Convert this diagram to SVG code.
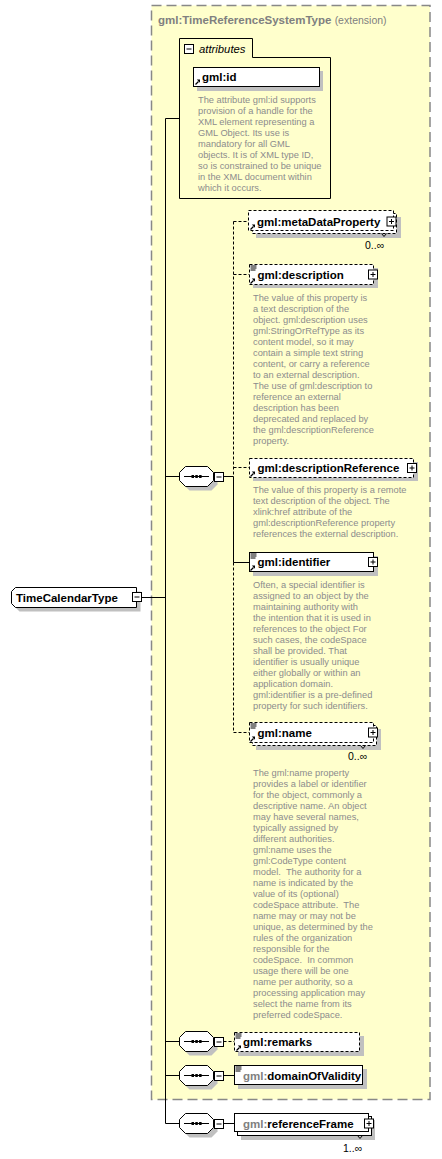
<svg xmlns="http://www.w3.org/2000/svg" xmlns:xlink="http://www.w3.org/1999/xlink" width="442" height="1159" viewBox="0 0 442 1159">
<style>
text{font-family:"Liberation Sans",Arial,sans-serif;}
.lb{font-size:11.5px;font-weight:bold;fill:#000;}
.g{fill:#808080;}
.d{font-size:9.3px;fill:#8c8c8c;white-space:pre;}
.m{font-size:10.5px;fill:#000;}
.box{fill:#fff;stroke:#000;stroke-width:1;}
.dbox{fill:#fff;stroke:#000;stroke-width:1;stroke-dasharray:3,2;}
.sh{fill:#c0c0c0;stroke:none;}
.ln{fill:none;stroke:#000;stroke-width:1;}
.dl{fill:none;stroke:#000;stroke-width:1;stroke-dasharray:3,2;}
</style>
<defs>
<g id="seq">
<polygon class="sh" points="10.5,4.5 32.5,4.5 38.5,10.5 38.5,18.5 32.5,24.5 10.5,24.5 4.5,18.5 4.5,10.5"/>
<polygon class="box" points="6.5,0.5 28.5,0.5 34.5,6.5 34.5,14.5 28.5,20.5 6.5,20.5 0.5,14.5 0.5,6.5"/>
<line class="ln" x1="5" y1="10.5" x2="30" y2="10.5"/>
<rect x="12.5" y="9" width="2.5" height="3" fill="#000"/>
<rect x="16.3" y="9" width="2.5" height="3" fill="#000"/>
<rect x="20.1" y="9" width="2.5" height="3" fill="#000"/>
<rect class="box" x="35.5" y="6.5" width="9" height="9"/>
<line class="ln" x1="37.5" y1="11" x2="42.5" y2="11"/>
</g>
<g id="plus">
<rect class="box" x="0.5" y="0.5" width="9" height="9"/>
<line class="ln" x1="2.5" y1="5" x2="7.5" y2="5"/>
<line class="ln" x1="5" y1="2.5" x2="5" y2="7.5"/>
</g>
<g id="ref">
<line x1="0.5" y1="5" x2="3.5" y2="2" stroke="#000" stroke-width="1.2"/>
<polygon points="1.8,0 5,0 5,3.2" fill="#000"/>
</g>
<g id="doc">
<line x1="0" y1="0.5" x2="6" y2="0.5" stroke="#000" stroke-width="1"/>
<line x1="0" y1="2.5" x2="6" y2="2.5" stroke="#000" stroke-width="1"/>
<line x1="0" y1="4.5" x2="5" y2="4.5" stroke="#000" stroke-width="1"/>
</g>
</defs>

<g id="extension">
<rect x="151.5" y="5.5" width="278.5" height="1094" fill="#ffffcc" stroke="#888" stroke-width="1.5" stroke-dasharray="10,5"/>
<text x="158" y="23.5" style="font-size:11.5px;font-weight:bold" class="g">gml:TimeReferenceSystemType <tspan style="font-weight:normal;font-size:10.5px">(extension)</tspan></text>
</g>

<g id="connectors">
<line class="ln" x1="141.5" y1="597.5" x2="165.5" y2="597.5"/>
<line class="ln" x1="165.5" y1="118.5" x2="165.5" y2="1123.5"/>
<line class="ln" x1="165.5" y1="118.5" x2="179.5" y2="118.5"/>
<line class="ln" x1="165.5" y1="476.5" x2="179.5" y2="476.5"/>
<line class="ln" x1="165.5" y1="1041.5" x2="179.5" y2="1041.5"/>
<line class="ln" x1="165.5" y1="1075.5" x2="179.5" y2="1075.5"/>
<line class="ln" x1="165.5" y1="1123.5" x2="179.5" y2="1123.5"/>
<line class="ln" x1="223.5" y1="476.5" x2="233.5" y2="476.5"/>
<line class="dl" x1="233.5" y1="221.5" x2="233.5" y2="476.5"/>
<line class="ln" x1="233.5" y1="476.5" x2="233.5" y2="562.5"/>
<line class="dl" x1="233.5" y1="562.5" x2="233.5" y2="732.5"/>
<line class="dl" x1="233.5" y1="221.5" x2="248.5" y2="221.5"/>
<line class="dl" x1="233.5" y1="274.5" x2="249.5" y2="274.5"/>
<line class="dl" x1="233.5" y1="467.5" x2="249.5" y2="467.5"/>
<line class="ln" x1="233.5" y1="562.5" x2="249.5" y2="562.5"/>
<line class="dl" x1="233.5" y1="732.5" x2="249.5" y2="732.5"/>
<line class="dl" x1="223.5" y1="1041.5" x2="234.5" y2="1041.5"/>
<line class="ln" x1="223.5" y1="1075.5" x2="234.5" y2="1075.5"/>
<line class="ln" x1="223.5" y1="1123.5" x2="234.5" y2="1123.5"/>
</g>

<g id="TimeCalendarType">
<polygon class="sh" points="19.5,591.5 140.5,591.5 140.5,611.5 19.5,611.5 15.5,607.5 15.5,595.5"/>
<polygon class="box" points="15.5,587.5 136.5,587.5 136.5,607.5 15.5,607.5 11.5,603.5 11.5,591.5"/>
<text class="lb" x="16" y="601.5">TimeCalendarType</text>
<rect class="box" x="132.5" y="592.5" width="9" height="9"/>
<line class="ln" x1="134.5" y1="597" x2="139.5" y2="597"/>
</g>

<g id="attributes">
<path class="ln" d="M179.5,198.5 V38.5 H252.5 V57.5 H330.5 V198.5 Z"/>
<rect class="box" x="184.5" y="44.5" width="9" height="9"/>
<line class="ln" x1="186.5" y1="49" x2="191.5" y2="49"/>
<text x="199" y="52.5" style="font-size:11.3px;font-style:italic">attributes</text>
</g>

<g id="gml-id">
<rect class="sh" x="197" y="71" width="126" height="20"/>
<rect class="box" x="193.5" y="67.5" width="126" height="19"/>
<use href="#ref" x="195" y="79.5"/>
<text class="lb" x="202" y="81">gml:id</text>
<text class="d" x="198"><tspan x="198" y="102.5">The attribute gml:id supports</tspan><tspan x="198" y="113.5">provision of a handle for the</tspan><tspan x="198" y="124.5">XML element representing a</tspan><tspan x="198" y="135.5">GML Object. Its use is</tspan><tspan x="198" y="146.5">mandatory for all GML</tspan><tspan x="198" y="157.5">objects. It is of XML type ID,</tspan><tspan x="198" y="168.5">so is constrained to be unique</tspan><tspan x="198" y="179.5">in the XML document within</tspan><tspan x="198" y="190.5">which it occurs.</tspan></text>
</g>

<g id="sequence-main"><use href="#seq" x="179" y="466"/></g>

<g id="metaDataProperty">
<rect class="sh" x="256" y="217" width="145" height="21"/>
<rect class="dbox" x="252.5" y="213.5" width="144" height="20"/>
<rect class="dbox" x="248.5" y="210.5" width="145" height="20"/>
<polyline class="ln" points="381.5,233.5 384,236.5 386.5,233.5"/>
<use href="#ref" x="250" y="224.5"/>
<text class="lb" x="257" y="225.5">gml:metaDataProperty</text>
<use href="#plus" x="386.5" y="216.5"/>
<text class="m" x="365" y="249">0..∞</text>
</g>

<g id="description">
<rect class="sh" x="253" y="268" width="125" height="20"/>
<rect class="dbox" x="249.5" y="264.5" width="124" height="20"/>
<use href="#doc" x="250.5" y="265.5"/>
<use href="#ref" x="250" y="278.5"/>
<text class="lb" x="257.5" y="278.5">gml:description</text>
<use href="#plus" x="368" y="269.5"/>
<text class="d"><tspan x="253" y="300.5">The value of this property is</tspan><tspan x="253" y="311.5">a text description of the</tspan><tspan x="253" y="322.5">object. gml:description uses</tspan><tspan x="253" y="333.5">gml:StringOrRefType as its</tspan><tspan x="253" y="344.5">content model, so it may</tspan><tspan x="253" y="355.5">contain a simple text string</tspan><tspan x="253" y="366.5">content, or carry a reference</tspan><tspan x="253" y="377.5">to an external description.</tspan><tspan x="253" y="388.5">The use of gml:description to</tspan><tspan x="253" y="399.5">reference an external</tspan><tspan x="253" y="410.5">description has been</tspan><tspan x="253" y="421.5">deprecated and replaced by</tspan><tspan x="253" y="432.5">the gml:descriptionReference</tspan><tspan x="253" y="443.5">property.</tspan></text>
</g>

<g id="descriptionReference">
<rect class="sh" x="253" y="462" width="165" height="19"/>
<rect class="dbox" x="249.5" y="458.5" width="164" height="19"/>
<use href="#ref" x="250" y="471.5"/>
<text class="lb" x="257.5" y="471.5">gml:descriptionReference</text>
<use href="#plus" x="407" y="463"/>
<text class="d"><tspan x="253" y="492.5">The value of this property is a remote</tspan><tspan x="253" y="503.5">text description of the object. The</tspan><tspan x="253" y="514.5">xlink:href attribute of the</tspan><tspan x="253" y="525.5">gml:descriptionReference property</tspan><tspan x="253" y="536.5">references the external description.</tspan></text>
</g>

<g id="identifier">
<rect class="sh" x="253" y="556" width="125" height="20"/>
<rect class="box" x="249.5" y="552.5" width="124" height="19"/>
<use href="#doc" x="250.5" y="553.5"/>
<use href="#ref" x="250" y="565.5"/>
<text class="lb" x="257.5" y="565.5">gml:identifier</text>
<use href="#plus" x="368" y="557"/>
<text class="d"><tspan x="253" y="587.5">Often, a special identifier is</tspan><tspan x="253" y="598.5">assigned to an object by the</tspan><tspan x="253" y="609.5">maintaining authority with</tspan><tspan x="253" y="620.5">the intention that it is used in</tspan><tspan x="253" y="631.5">references to the object For</tspan><tspan x="253" y="642.5">such cases, the codeSpace</tspan><tspan x="253" y="653.5">shall be provided. That</tspan><tspan x="253" y="664.5">identifier is usually unique</tspan><tspan x="253" y="675.5">either globally or within an</tspan><tspan x="253" y="686.5">application domain.</tspan><tspan x="253" y="697.5">gml:identifier is a pre-defined</tspan><tspan x="253" y="708.5">property for such identifiers.</tspan></text>
</g>

<g id="name">
<rect class="sh" x="256" y="729" width="125" height="21"/>
<rect class="dbox" x="252.5" y="725.5" width="124" height="20"/>
<rect class="dbox" x="249.5" y="722.5" width="124" height="20"/>
<polyline class="ln" points="360.5,745.5 363,748.5 365.5,745.5"/>
<use href="#doc" x="250.5" y="723.5"/>
<use href="#ref" x="250" y="736.5"/>
<text class="lb" x="257.5" y="736.5">gml:name</text>
<use href="#plus" x="368" y="727.5"/>
<text class="m" x="348" y="759.5">0..∞</text>
<text class="d"><tspan x="253" y="775.5">The gml:name property</tspan><tspan x="253" y="786.5">provides a label or identifier</tspan><tspan x="253" y="797.5">for the object, commonly a</tspan><tspan x="253" y="808.5">descriptive name. An object</tspan><tspan x="253" y="819.5">may have several names,</tspan><tspan x="253" y="830.5">typically assigned by</tspan><tspan x="253" y="841.5">different authorities.</tspan><tspan x="253" y="852.5">gml:name uses the</tspan><tspan x="253" y="863.5">gml:CodeType content</tspan><tspan x="253" y="874.5">model.  The authority for a</tspan><tspan x="253" y="885.5">name is indicated by the</tspan><tspan x="253" y="896.5">value of its (optional)</tspan><tspan x="253" y="907.5">codeSpace attribute.  The</tspan><tspan x="253" y="918.5">name may or may not be</tspan><tspan x="253" y="929.5">unique, as determined by the</tspan><tspan x="253" y="940.5">rules of the organization</tspan><tspan x="253" y="951.5">responsible for the</tspan><tspan x="253" y="962.5">codeSpace.  In common</tspan><tspan x="253" y="973.5">usage there will be one</tspan><tspan x="253" y="984.5">name per authority, so a</tspan><tspan x="253" y="995.5">processing application may</tspan><tspan x="253" y="1006.5">select the name from its</tspan><tspan x="253" y="1017.5">preferred codeSpace.</tspan></text>
</g>

<g id="sequence-remarks"><use href="#seq" x="179" y="1031"/></g>
<g id="remarks">
<rect class="sh" x="238" y="1036" width="126" height="20"/>
<rect class="dbox" x="234.5" y="1032.5" width="125" height="19"/>
<use href="#doc" x="235.5" y="1033.5"/>
<use href="#ref" x="236" y="1045.5"/>
<text class="lb" x="243" y="1046">gml:remarks</text>
</g>

<g id="sequence-domain"><use href="#seq" x="179" y="1065"/></g>
<g id="domainOfValidity">
<rect class="sh" x="238" y="1069" width="129" height="20"/>
<rect class="box" x="234.5" y="1065.5" width="128" height="19"/>
<use href="#doc" x="235.5" y="1066.5"/>
<text class="lb" x="243" y="1079.5"><tspan class="g">gml:</tspan>domainOfValidity</text>
</g>

<g id="sequence-frame"><use href="#seq" x="179" y="1113"/></g>
<g id="referenceFrame">
<rect class="sh" x="241" y="1120" width="134" height="20"/>
<rect class="box" x="237.5" y="1116.5" width="134" height="19"/>
<rect class="box" x="234.5" y="1113.5" width="134" height="18"/>
<polyline class="ln" points="357.5,1135.5 360,1138.5 362.5,1135.5"/>
<text class="lb" x="243" y="1127.5"><tspan class="g">gml:</tspan>referenceFrame</text>
<use href="#plus" x="364" y="1118.5"/>
<text class="m" x="343" y="1151.5">1..∞</text>
</g>
</svg>
